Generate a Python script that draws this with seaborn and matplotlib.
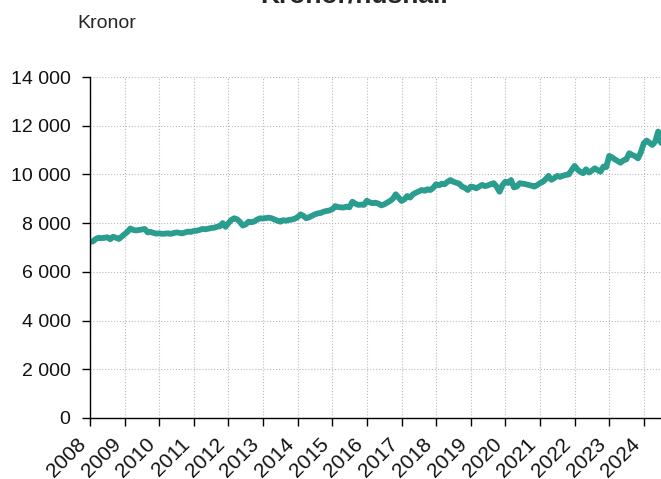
import pandas as pd
import seaborn as sns
import matplotlib.pyplot as plt
import matplotlib.dates as mdates
from matplotlib.ticker import FuncFormatter, MultipleLocator

# Kronor per hushåll, månadsvärden jan 2008 - jul 2024
v2008 = [7230, 7250, 7350, 7400, 7380, 7400, 7420, 7340, 7440, 7400, 7350, 7450]
v2009 = [7550, 7650, 7780, 7720, 7700, 7720, 7740, 7760, 7620, 7640, 7600, 7570]
v2010 = [7580, 7560, 7570, 7580, 7560, 7590, 7620, 7600, 7580, 7620, 7650, 7640]
v2011 = [7680, 7690, 7720, 7760, 7750, 7770, 7800, 7810, 7850, 7870, 8000, 7850]
v2012 = [8000, 8130, 8200, 8160, 8050, 7900, 7950, 8060, 8040, 8070, 8150, 8200]
v2013 = [8190, 8210, 8225, 8200, 8150, 8100, 8060, 8120, 8100, 8130, 8150, 8180]
v2014 = [8250, 8360, 8300, 8200, 8240, 8300, 8360, 8400, 8420, 8470, 8500, 8520]
v2015 = [8570, 8700, 8660, 8650, 8640, 8680, 8650, 8880, 8800, 8750, 8760, 8750]
v2016 = [8920, 8850, 8820, 8840, 8800, 8730, 8770, 8840, 8910, 9000, 9185, 9050]
v2017 = [8910, 8980, 9115, 9050, 9180, 9250, 9300, 9360, 9330, 9390, 9360, 9450]
v2018 = [9600, 9550, 9620, 9600, 9700, 9770, 9700, 9660, 9620, 9500, 9450, 9360]
v2019 = [9500, 9480, 9430, 9500, 9570, 9520, 9550, 9600, 9640, 9500, 9290, 9550]
v2020 = [9700, 9650, 9770, 9470, 9500, 9640, 9620, 9600, 9570, 9540, 9500, 9560]
v2021 = [9640, 9700, 9800, 9940, 9780, 9850, 9940, 9900, 9950, 9980, 10000, 10180]
v2022 = [10350, 10200, 10110, 10050, 10210, 10080, 10150, 10250, 10180, 10110, 10320, 10300]
v2023 = [10760, 10700, 10620, 10550, 10480, 10580, 10620, 10870, 10800, 10750, 10660, 10900]
v2024 = [11280, 11390, 11300, 11210, 11350, 11760, 11300]

values = (v2008 + v2009 + v2010 + v2011 + v2012 + v2013 + v2014 + v2015 + v2016
          + v2017 + v2018 + v2019 + v2020 + v2021 + v2022 + v2023 + v2024)
dates = pd.date_range("2008-01-01", periods=len(values), freq="MS")
df = pd.DataFrame({"Datum": dates, "Kronor": values})

sns.set_style("white")
plt.rcParams['font.family'] = ['Liberation Sans', 'DejaVu Sans']

fig = plt.figure(figsize=(6.61, 4.79), dpi=100)
ax = fig.add_axes([90 / 661, 1 - 418 / 479, 1 - 90 / 661, (418 - 77) / 479])

sns.lineplot(data=df, x="Datum", y="Kronor", ax=ax, color="#2a9d8f", linewidth=4.2)

ax.set_ylim(0, 14000)
ax.set_xlim(dates[0], dates[-1])
ax.yaxis.set_major_locator(MultipleLocator(2000))
ax.yaxis.set_major_formatter(FuncFormatter(lambda v, p: f"{int(v):,}".replace(",", " ")))
ax.xaxis.set_major_locator(mdates.YearLocator())
ax.xaxis.set_major_formatter(mdates.DateFormatter("%Y"))

ax.grid(True, color="#bbbbbb", linestyle=":", linewidth=0.8)
ax.set_axisbelow(True)
for s in ["top", "right"]:
    ax.spines[s].set_visible(False)
for s in ["left", "bottom"]:
    ax.spines[s].set_color("black")
    ax.spines[s].set_linewidth(1.0)

ax.tick_params(axis="both", direction="out", length=6, width=1, color="black",
               labelsize=14, labelcolor="#111111", bottom=True, left=True)
ax.tick_params(axis="y", pad=8)
ax.tick_params(axis="x", pad=6, labelsize=15)
for lab in ax.get_xticklabels():
    lab.set_rotation(45)
    lab.set_ha("right")

ax.set_xlabel("")
ax.set_ylabel("")

fig.text(77 / 661, 1 - 28.5 / 479, "Kronor", fontsize=14, ha="left", va="baseline")
fig.text(354 / 661, 1 - 3.5 / 479, "Kronor/hushåll", fontsize=19, fontweight="bold",
         ha="center", va="baseline")

fig.savefig("out.png", dpi=100)
